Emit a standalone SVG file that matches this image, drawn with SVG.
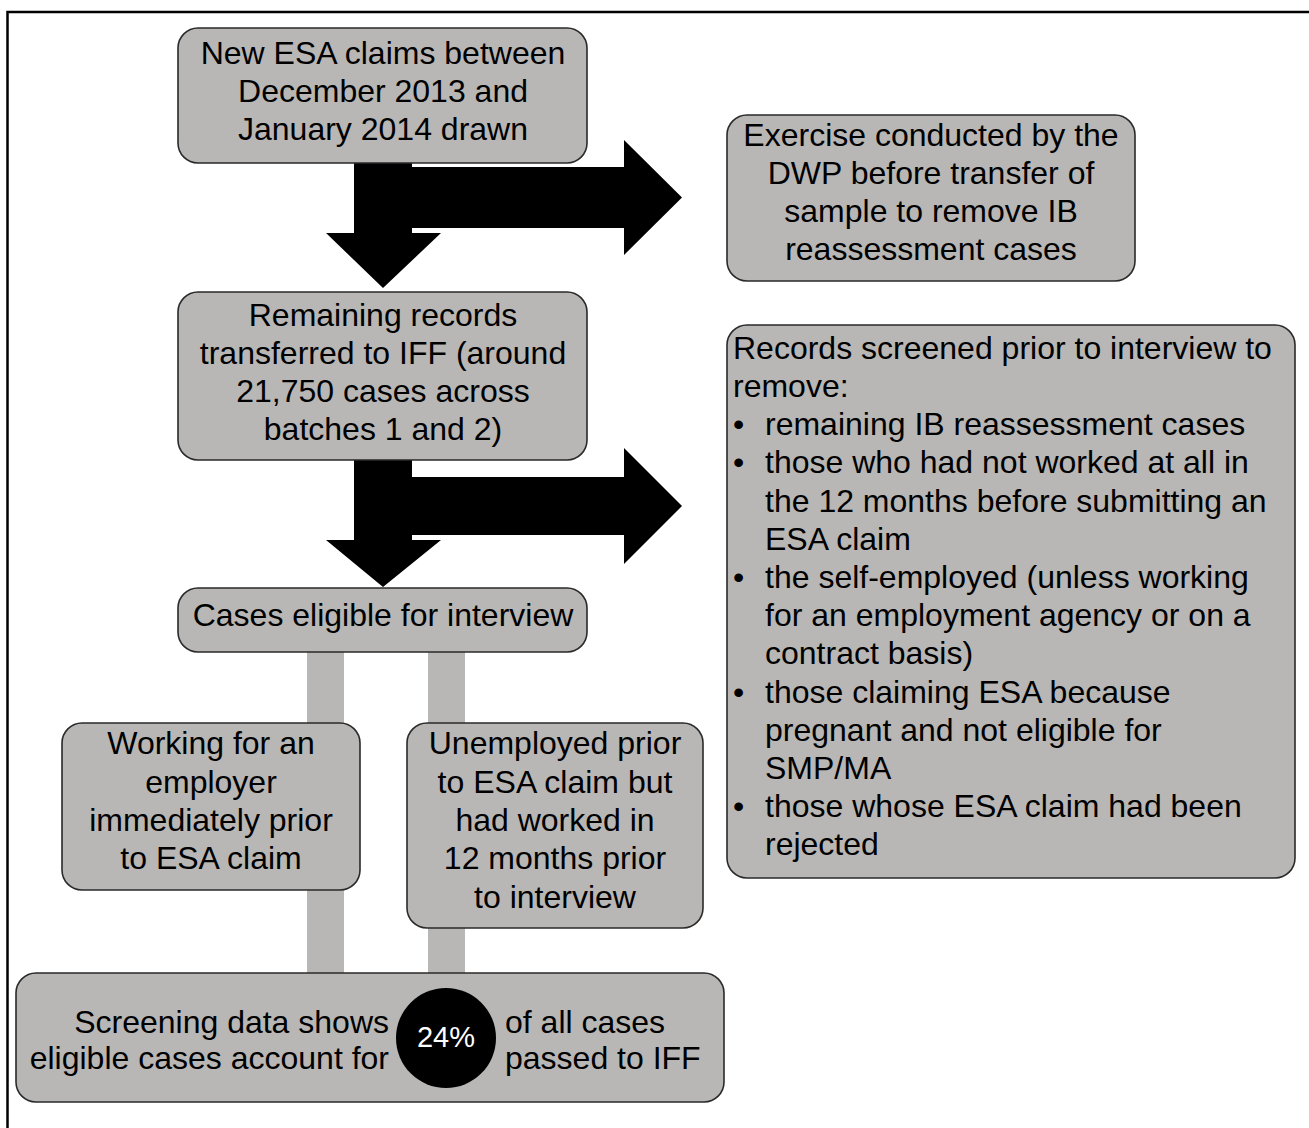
<svg xmlns="http://www.w3.org/2000/svg" width="1309" height="1128" viewBox="0 0 1309 1128">
<style>
.box{fill:#b8b7b5;stroke:#2a2a2a;stroke-width:1.6}
.t{font-family:"Liberation Sans",Arial,sans-serif;font-size:32px;fill:#000}
.c{text-anchor:middle}
.arrow{fill:#000}
.bar{fill:#b8b7b5}
</style>
<rect x="0" y="0" width="1309" height="1128" fill="#fff"/>
<rect x="7.5" y="12" width="1400" height="1200" fill="none" stroke="#000" stroke-width="2.5"/>
<g id="connectors">
<polygon class="arrow" points="354,150 412,150 412,167 624,167 624,140 682,197.5 624,255 624,228 412,228 412,233 441,233 383,288 326,233 354,233"/>
<polygon class="arrow" points="354,450 412,450 412,477 624,477 624,448 682,506 624,564 624,535 412,535 412,540 441,540 383,587 326,540 354,540"/>
<rect class="bar" x="307" y="645" width="37" height="335"/>
<rect class="bar" x="428" y="645" width="37" height="335"/>
</g>
<g id="n-new-claims">
<rect class="box" x="178" y="28" width="409" height="135" rx="20"/>
<text class="t c" x="383" y="64">New ESA claims between</text>
<text class="t c" x="383" y="102">December 2013 and</text>
<text class="t c" x="383" y="140">January 2014 drawn</text>
</g>
<g id="n-exercise">
<rect class="box" x="727" y="115" width="408" height="166" rx="20"/>
<text class="t c" x="931" y="146">Exercise conducted by the</text>
<text class="t c" x="931" y="184">DWP before transfer of</text>
<text class="t c" x="931" y="222">sample to remove IB</text>
<text class="t c" x="931" y="260">reassessment cases</text>
</g>
<g id="n-remaining">
<rect class="box" x="178" y="292" width="409" height="168" rx="20"/>
<text class="t c" x="383" y="326">Remaining records</text>
<text class="t c" x="383" y="364">transferred to IFF (around</text>
<text class="t c" x="383" y="402">21,750 cases across</text>
<text class="t c" x="383" y="440">batches 1 and 2)</text>
</g>
<g id="n-screened">
<rect class="box" x="727" y="325" width="568" height="553" rx="20"/>
<text class="t" x="733" y="359">Records screened prior to interview to</text>
<text class="t" x="733" y="397">remove:</text>
<text class="t" x="733" y="435">•</text><text class="t" x="765" y="435">remaining IB reassessment cases</text>
<text class="t" x="733" y="473">•</text><text class="t" x="765" y="473">those who had not worked at all in</text>
<text class="t" x="765" y="512">the 12 months before submitting an</text>
<text class="t" x="765" y="550">ESA claim</text>
<text class="t" x="733" y="588">•</text><text class="t" x="765" y="588">the self-employed (unless working</text>
<text class="t" x="765" y="626">for an employment agency or on a</text>
<text class="t" x="765" y="664">contract basis)</text>
<text class="t" x="733" y="703">•</text><text class="t" x="765" y="703">those claiming ESA because</text>
<text class="t" x="765" y="741">pregnant and not eligible for</text>
<text class="t" x="765" y="779">SMP/MA</text>
<text class="t" x="733" y="817">•</text><text class="t" x="765" y="817">those whose ESA claim had been</text>
<text class="t" x="765" y="855">rejected</text>
</g>
<g id="n-eligible">
<rect class="box" x="178" y="588" width="409" height="64" rx="20"/>
<text class="t c" x="383" y="626">Cases eligible for interview</text>
</g>
<g id="n-working">
<rect class="box" x="62" y="723" width="298" height="167" rx="20"/>
<text class="t c" x="211" y="754">Working for an</text>
<text class="t c" x="211" y="793">employer</text>
<text class="t c" x="211" y="831">immediately prior</text>
<text class="t c" x="211" y="869">to ESA claim</text>
</g>
<g id="n-unemployed">
<rect class="box" x="407" y="723" width="296" height="205" rx="20"/>
<text class="t c" x="555" y="754">Unemployed prior</text>
<text class="t c" x="555" y="793">to ESA claim but</text>
<text class="t c" x="555" y="831">had worked in</text>
<text class="t c" x="555" y="869">12 months prior</text>
<text class="t c" x="555" y="908">to interview</text>
</g>
<g id="n-screening">
<rect class="box" x="16" y="973" width="708" height="129" rx="20"/>
<text class="t" x="389" y="1033" text-anchor="end">Screening data shows</text>
<text class="t" x="389" y="1069" text-anchor="end">eligible cases account for</text>
<circle cx="446" cy="1038" r="50" fill="#000"/>
<text x="446" y="1047" text-anchor="middle" style="font-family:'Liberation Sans',Arial,sans-serif;font-size:29px;fill:#fff">24%</text>
<text class="t" x="505" y="1033">of all cases</text>
<text class="t" x="505" y="1069">passed to IFF</text>
</g>
</svg>
